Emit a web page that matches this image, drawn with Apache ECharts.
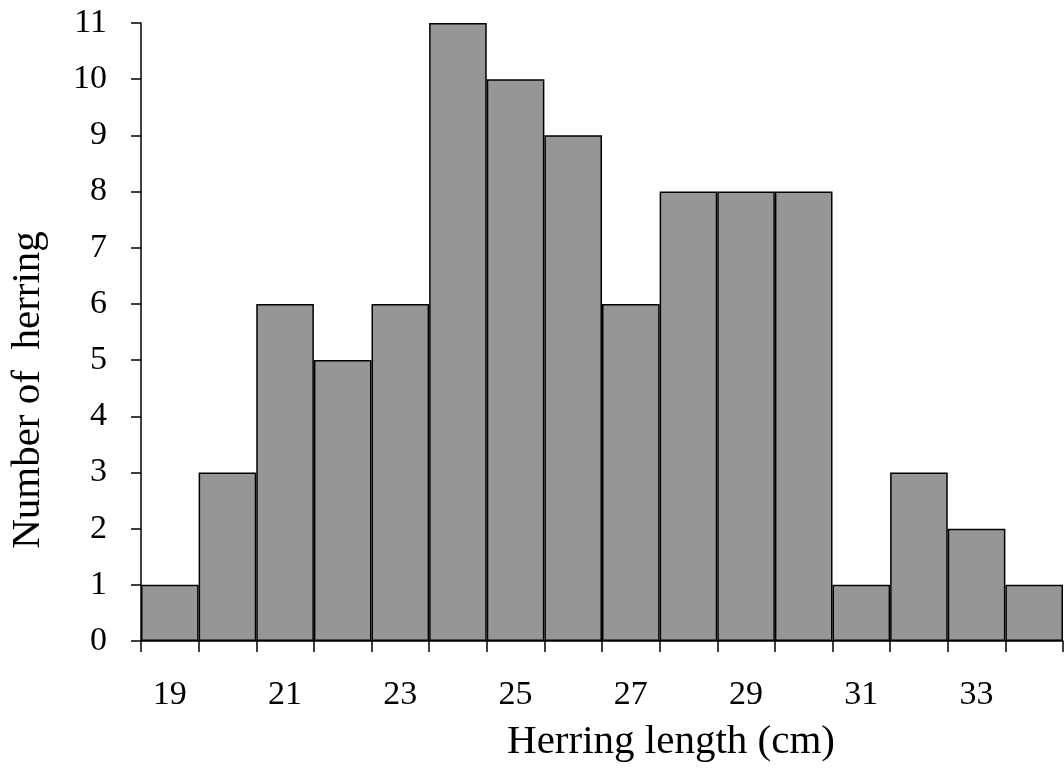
<!DOCTYPE html>
<html>
<head>
<meta charset="utf-8">
<script src="https://cdn.jsdelivr.net/npm/echarts@6/dist/echarts.min.js"></script>
<style>html,body{margin:0;padding:0;background:#fff}#c{width:1064px;height:772px}</style>
</head>
<body>
<div id="c"></div>
<script>
const lengths = ['19','20','21','22','23','24','25','26','27','28','29','30','31','32','33','34'];
const counts = [1,3,6,5,6,11,10,9,6,8,8,8,1,3,2,1];
const yTicks = [0,1,2,3,4,5,6,7,8,9,10,11];
const xTitle = 'Herring length (cm)';
const yTitle = 'Number of  herring';

const font = 'Liberation Serif';
const chart = echarts.init(document.getElementById('c'), null, {renderer: 'canvas'});
chart.setOption({
  animation: false,
  backgroundColor: '#fff',
  grid: {left: 141, right: 1, top: 23, bottom: 131, containLabel: false},
  graphic: [
    {type: 'text', x: 671, y: 742, style: {text: xTitle, fontFamily: font, fontSize: 41, fill: '#000', align: 'center', verticalAlign: 'middle'}},
    {type: 'text', x: 28, y: 390, rotation: Math.PI / 2, style: {text: yTitle, fontFamily: font, fontSize: 41, fill: '#000', align: 'center', verticalAlign: 'middle'}}
  ],
  xAxis: {
    type: 'category',
    data: lengths,
    boundaryGap: true,
    axisLine: {lineStyle: {color: '#000', width: 1.5}},
    axisTick: {show: true, inside: false, length: 11, lineStyle: {color: '#000', width: 1.5}, interval: 0},
    axisLabel: {interval: 1, margin: 37, fontFamily: font, fontSize: 34, color: '#000'},
    splitLine: {show: false}
  },
  yAxis: {
    type: 'value',
    min: 0, max: yTicks[yTicks.length - 1], interval: 1,
    axisLine: {show: true, lineStyle: {color: '#000', width: 1.5}},
    axisTick: {show: true, length: 10, lineStyle: {color: '#000', width: 1.5}},
    axisLabel: {margin: 34, fontFamily: font, fontSize: 34, color: '#000'},
    splitLine: {show: false}
  },
  series: [{
    type: 'bar',
    data: counts,
    barCategoryGap: '0%',
    itemStyle: {color: '#969696', borderColor: '#000', borderWidth: 1.5}
  }]
});
</script>
</body>
</html>
